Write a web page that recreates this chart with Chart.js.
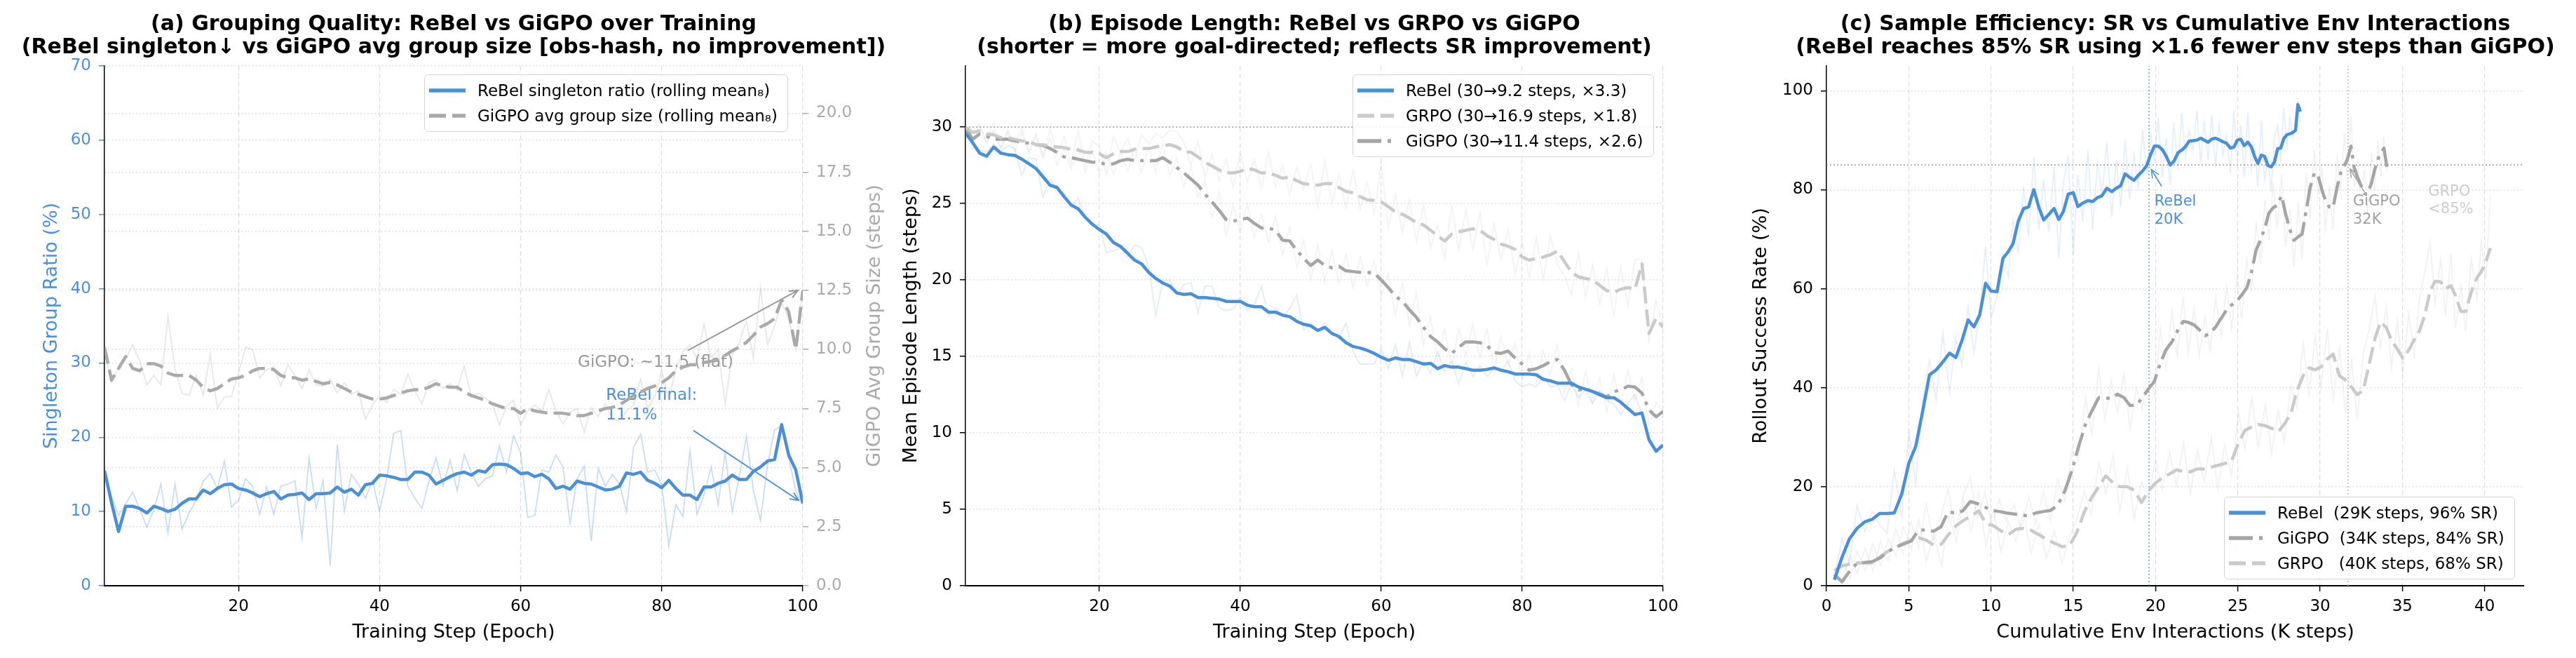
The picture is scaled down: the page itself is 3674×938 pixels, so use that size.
<!DOCTYPE html>
<html>
<head>
<meta charset="utf-8">
<title>ReBel vs GiGPO vs GRPO</title>
<script src="https://cdn.jsdelivr.net/npm/chart.js@4.4.1/dist/chart.umd.min.js"></script>
<style>
  html, body { margin: 0; padding: 0; background: #fff; }
  body { width: 3674px; height: 938px; position: relative; overflow: hidden; font-family: "DejaVu Sans", sans-serif; }
  canvas { position: absolute; top: 0; }
  .legend { position: absolute; background: rgba(255,255,255,0.85); border: 1.5px solid #d4d4d4; border-radius: 6px; padding: 4px 14px 4px 6px; font-size: 23px; color: #000; z-index: 2; }
  .legend .row { display: flex; align-items: center; height: 36px; white-space: pre; }
  .legend svg { margin-right: 17px; flex: none; }
</style>
</head>
<body>
<canvas id="chart-a" width="1290" height="938" style="left:0px"></canvas>
<canvas id="chart-b" width="1190" height="938" style="left:1280px"></canvas>
<canvas id="chart-c" width="1194" height="938" style="left:2480px"></canvas>
<div class="legend" id="legend-a" style="left:605px; top:106px"></div>
<div class="legend" id="legend-b" style="left:1929px; top:106px"></div>
<div class="legend" id="legend-c" style="left:3172px; top:708px"></div>
<script>
// ---- data ----
const epochs = Array.from({ length: 100 }, (_, i) => i + 1);
const epochTicks = [20, 40, 60, 80, 100];

// (a) grouping quality
const singletonTicks = [0, 10, 20, 30, 40, 50, 60, 70];
const groupSizeTicks = [0, 2.5, 5, 7.5, 10, 12.5, 15, 17.5, 20];
const rebelSingletonMean = [
  15.5, 11.2, 7.3, 10.7, 10.7, 10.4, 9.8, 10.7, 10.4, 10.0,
  10.3, 11.1, 11.7, 11.7, 12.9, 12.4, 13.1, 13.6, 13.7, 13.1,
  12.9, 12.5, 12.0, 12.4, 12.7, 11.7, 12.2, 12.3, 12.5, 11.6,
  12.4, 12.4, 12.5, 13.3, 12.6, 13.0, 12.2, 13.6, 13.8, 14.9,
  14.8, 14.6, 14.3, 14.3, 15.3, 15.3, 14.9, 13.7, 14.2, 14.7,
  15.1, 15.3, 14.9, 15.5, 15.3, 16.3, 16.4, 16.3, 15.8, 15.1,
  15.2, 14.7, 15.0, 14.4, 13.1, 13.4, 13.0, 14.1, 13.8, 13.7,
  13.3, 12.9, 13.0, 13.4, 15.2, 15.0, 15.3, 14.2, 13.8, 13.2,
  14.2, 13.1, 12.2, 12.2, 11.6, 13.3, 13.3, 13.8, 14.1, 14.9,
  14.3, 14.3, 15.4, 16.0, 16.8, 17.0, 21.7, 17.6, 15.6, 11.1
];
const rebelSingletonRaw = [
  15.5, 12.0, 9.5, 11.0, 12.6, 10.3, 7.9, 10.2, 13.7, 7.1,
  13.7, 7.6, 9.8, 11.5, 14.1, 15.1, 13.1, 16.8, 10.6, 11.5,
  14.4, 13.4, 9.6, 13.3, 9.6, 13.4, 13.7, 14.1, 6.5, 17.2,
  10.4, 14.1, 2.7, 19.0, 10.1, 15.0, 13.7, 11.8, 14.2, 10.0,
  14.4, 20.5, 20.9, 13.4, 11.8, 10.4, 14.1, 17.2, 13.4, 16.9,
  12.8, 17.7, 15.3, 13.4, 14.4, 14.8, 18.8, 15.3, 20.2, 17.9,
  9.2, 9.5, 15.6, 15.3, 17.6, 16.0, 8.4, 14.4, 16.1, 6.0,
  15.8, 13.4, 15.0, 13.7, 10.0, 18.6, 20.4, 15.3, 15.6, 13.7,
  5.4, 10.9, 9.3, 18.2, 9.6, 12.2, 16.0, 10.9, 18.0, 10.0,
  14.7, 20.1, 12.8, 8.8, 16.3, 21.0, 21.6, 17.2, 12.8, 10.9
];
const gigpoGroupMean = [
  10.1, 8.7, 9.2, 9.7, 9.2, 9.1, 9.4, 9.4, 9.3, 9.0,
  8.9, 8.9, 8.9, 8.7, 8.4, 8.25, 8.35, 8.55, 8.75, 8.8,
  8.9, 9.1, 9.2, 9.2, 9.15, 8.9, 8.8, 8.8, 8.7, 8.75,
  8.65, 8.55, 8.6, 8.5, 8.35, 8.2, 8.1, 8.0, 7.9, 7.9,
  7.95, 8.05, 8.15, 8.25, 8.3, 8.3, 8.4, 8.55, 8.45, 8.4,
  8.4, 8.2, 8.05, 7.95, 7.85, 7.7, 7.6, 7.5, 7.5, 7.3,
  7.5, 7.4, 7.35, 7.3, 7.3, 7.3, 7.25, 7.2, 7.2, 7.3,
  7.4, 7.5, 7.55, 7.65, 7.85, 8.05, 8.2, 8.35, 8.45, 8.6,
  8.8, 9.1, 9.25, 9.35, 9.35, 9.45, 9.5, 9.6, 9.75, 9.95,
  10.1, 10.3, 10.6, 10.95, 11.1, 11.3, 12.1, 11.6, 10.0, 12.5
];
const gigpoGroupRaw = [
  10.1, 8.6, 9.2, 9.6, 10.2, 9.5, 8.5, 8.9, 8.5, 11.4,
  9.15, 8.15, 8.05, 8.9, 8.05, 9.8, 7.5, 8.0, 8.0, 9.0,
  10.1, 10.0, 8.8, 9.15, 9.25, 8.45, 9.35, 8.9, 8.35, 9.15,
  8.5, 8.45, 8.75, 8.15, 8.6, 8.1, 8.25, 7.05, 7.65, 8.05,
  7.75, 8.3, 8.1, 8.95, 8.25, 7.7, 8.6, 8.7, 8.35, 8.55,
  8.3, 9.3, 8.0, 8.15, 7.95, 7.7, 6.8, 7.6, 7.85, 6.8,
  7.4, 7.65, 7.4, 8.3, 7.4, 6.85, 7.35, 7.5, 6.5, 7.55,
  7.15, 7.7, 7.1, 6.95, 7.4, 7.65, 8.75, 7.5, 8.0, 9.1,
  7.9, 9.15, 9.9, 10.2, 9.6, 11.05, 9.65, 10.0, 7.7, 9.75,
  10.3, 11.2, 9.65, 12.6, 10.2, 11.0, 12.0, 11.3, 10.0, 12.5
];

// (b) episode length
const lengthTicks = [0, 5, 10, 15, 20, 25, 30];
const startLength = [30];
const rebelLenMean = [
  29.6, 29.0, 28.3, 28.1, 28.7, 28.3, 28.2, 28.15, 27.9, 27.6,
  27.3, 26.75, 26.2, 26.05, 25.45, 24.9, 24.65, 24.1, 23.65, 23.3,
  23.0, 22.45, 22.2, 21.75, 21.3, 21.05, 20.5, 20.1, 19.8, 19.6,
  19.15, 19.05, 19.1, 18.85, 18.85, 18.8, 18.75, 18.6, 18.6, 18.6,
  18.35, 18.25, 18.25, 17.9, 17.9, 17.7, 17.6, 17.3, 17.1, 17.0,
  16.7, 16.9, 16.5, 16.3, 15.9, 15.65, 15.55, 15.4, 15.2, 14.95,
  14.75, 14.9, 14.8, 14.8, 14.65, 14.5, 14.55, 14.2, 14.4, 14.3,
  14.3, 14.2, 14.1, 14.1, 14.15, 14.25, 14.1, 14.0, 13.85, 13.85,
  13.85, 13.8, 13.5, 13.4, 13.25, 13.25, 13.25, 13.0, 12.85, 12.7,
  12.5, 12.3, 12.3, 12.0, 11.6, 11.2, 11.3, 9.55, 8.8, 9.2
];
const rebelLenRaw = [
  30.0, 29.1, 28.5, 28.4, 28.9, 28.4, 28.8, 28.6, 26.8, 28.0,
  27.9, 25.4, 26.6, 26.0, 25.7, 24.7, 25.4, 24.0, 23.5, 23.6,
  21.8, 21.9, 22.1, 21.5, 22.3, 22.1, 20.9, 17.7, 19.9, 20.0,
  19.0, 19.7, 19.8, 17.9, 19.6, 19.6, 18.2, 18.0, 18.1, 18.9,
  18.0, 18.4, 19.6, 17.6, 18.2, 17.6, 18.1, 19.0, 16.7, 17.2,
  16.7, 17.2, 16.5, 16.2, 17.2, 15.3, 14.5, 14.5, 14.5, 15.5,
  14.2, 15.8, 13.7, 15.9, 13.7, 14.7, 13.9, 15.3, 14.0, 14.7,
  13.2, 14.6, 13.7, 14.4, 13.7, 14.2, 14.0, 14.7, 13.4, 13.0,
  13.2, 13.0, 13.7, 13.0, 13.1, 12.1, 13.2, 12.3, 12.8, 11.9,
  12.8, 12.1, 11.9, 11.2, 11.9, 12.5, 11.2, 9.3, 8.8, 9.5
];
const grpoLenMean = [
  30.0, 29.65, 29.75, 29.55, 29.5, 29.3, 29.3, 29.2, 29.1, 29.05,
  28.85, 28.85, 28.75, 28.7, 28.65, 28.55, 28.5, 28.35, 28.35, 28.25,
  28.0, 28.25, 28.4, 28.4, 28.55, 28.6, 28.6, 28.7, 28.8, 28.85,
  28.7, 28.4, 28.35, 28.05, 27.7, 27.45, 27.2, 27.0, 27.0, 27.1,
  27.3, 27.2, 27.0, 27.0, 26.85, 26.65, 26.75, 26.5, 26.3, 26.25,
  26.2, 26.3, 26.3, 26.05, 25.8, 25.7, 25.45, 25.25, 25.2, 25.1,
  24.8, 24.45, 24.3, 24.05, 23.75, 23.6, 23.25, 22.9, 22.55, 23.0,
  23.15, 23.25, 23.35, 23.25, 22.9, 22.65, 22.35, 22.2, 22.0, 21.5,
  21.3, 21.4, 21.5, 21.65, 21.9, 21.2, 20.5, 20.2, 20.1, 20.0,
  19.65, 19.3, 19.2, 19.4, 19.5, 19.4, 21.05, 16.5, 17.5, 16.9
];
const grpoLenRaw = [
  30.0, 29.2, 30.2, 29.0, 30.3, 28.6, 29.8, 28.9, 29.9, 28.4,
  29.6, 28.0, 29.9, 28.2, 29.4, 27.6, 29.8, 27.4, 29.1, 28.7,
  26.9, 29.4, 28.3, 29.3, 27.8, 29.5, 28.9, 29.6, 29.3, 29.8,
  29.7, 29.0, 27.5, 29.1, 26.7, 28.2, 26.5, 27.9, 26.1, 28.3,
  26.4, 27.9, 25.9, 28.4, 26.1, 27.5, 25.6, 27.4, 25.9, 27.6,
  24.7, 27.8, 25.0, 26.9, 24.7, 27.2, 24.6, 26.4, 24.3, 27.7,
  23.4, 25.6, 23.1, 25.3, 22.5, 24.9, 22.1, 23.6, 21.4, 24.9,
  21.9, 24.6, 22.0, 24.4, 21.0, 23.7, 21.3, 23.3, 20.4, 22.5,
  20.2, 22.8, 20.0, 22.9, 21.0, 20.3, 19.0, 21.8, 18.9, 21.0,
  18.4, 20.8, 17.6, 20.9, 18.3, 21.3, 21.4, 16.0, 18.7, 16.9
];
const gigpoLenMean = [
  30.0, 29.2, 29.55, 29.4, 29.2, 29.2, 29.2, 29.1, 29.0, 28.95,
  28.85, 28.8, 28.6, 28.35, 28.05, 28.0, 27.9, 27.8, 27.7, 27.7,
  27.55, 27.6, 27.8, 27.9, 27.8, 27.8, 27.8, 27.8, 28.0, 27.7,
  27.35, 27.0, 26.6, 26.2, 25.6, 25.1, 24.55, 23.95, 23.85, 23.95,
  24.05, 23.7, 23.4, 23.4, 23.25, 22.6, 22.55, 21.95, 21.4, 20.95,
  21.3, 20.95, 20.8, 20.9, 20.6, 20.55, 20.5, 20.5, 20.45, 20.0,
  19.5, 18.95, 18.6, 18.05, 17.55, 16.9, 16.3, 15.95, 15.5, 15.2,
  15.6, 15.95, 15.95, 15.9, 15.7, 15.25, 15.2, 15.35, 14.9, 14.5,
  14.1, 14.2, 14.4, 14.65, 14.8, 14.1, 13.15, 12.8, 12.9, 12.7,
  12.55, 12.35, 12.7, 12.8, 13.05, 13.0, 12.6, 11.5, 11.05, 11.4
];
const gigpoLenRaw = [
  30.0, 28.5, 30.1, 28.9, 29.8, 28.6, 29.7, 28.4, 29.6, 28.3,
  29.4, 28.1, 29.3, 27.5, 28.6, 27.2, 28.7, 27.0, 28.5, 26.9,
  28.3, 26.9, 28.4, 27.1, 28.6, 27.0, 28.7, 27.1, 28.9, 26.8,
  28.0, 26.1, 27.4, 25.4, 26.5, 24.1, 25.8, 22.9, 24.9, 23.1,
  25.0, 22.8, 24.3, 22.5, 24.2, 21.6, 23.5, 20.8, 22.6, 20.0,
  22.3, 19.9, 21.9, 19.7, 21.7, 19.5, 21.5, 19.6, 21.3, 18.9,
  20.4, 17.7, 19.8, 17.0, 19.2, 15.7, 17.6, 14.7, 16.8, 14.2,
  16.8, 15.0, 17.1, 14.9, 16.8, 14.1, 16.3, 14.3, 15.9, 13.4,
  15.2, 13.2, 15.4, 13.8, 15.8, 12.6, 14.2, 11.8, 14.0, 12.0,
  13.6, 11.4, 13.8, 11.9, 14.1, 12.1, 13.6, 10.5, 12.0, 11.4
];

// (c) success rate vs cumulative env interactions (K steps)
const stepTicks = [0, 5, 10, 15, 20, 25, 30, 35, 40];
const srTicks = [0, 20, 40, 60, 80, 100];
const srTarget = [85];
const reachSteps = [19.6, 31.7]; // ReBel, GiGPO first reach 85%
const rebelSteps = [
  0.48, 0.95, 1.40, 1.86, 2.32, 2.77, 3.23, 3.69, 4.12, 4.57,
  5.01, 5.42, 5.85, 6.26, 6.67, 7.07, 7.48, 7.86, 8.24, 8.61,
  8.96, 9.31, 9.67, 10.01, 10.37, 10.72, 11.05, 11.34, 11.66, 11.98,
  12.28, 12.60, 12.91, 13.20, 13.51, 13.83, 14.12, 14.40, 14.69, 15.00,
  15.28, 15.58, 15.89, 16.17, 16.47, 16.75, 17.04, 17.34, 17.61, 17.88,
  18.15, 18.43, 18.69, 18.95, 19.22, 19.47, 19.70, 19.93, 20.16, 20.41,
  20.64, 20.89, 21.11, 21.37, 21.59, 21.82, 22.04, 22.29, 22.51, 22.75,
  22.96, 23.19, 23.41, 23.64, 23.86, 24.09, 24.31, 24.55, 24.76, 24.97,
  25.18, 25.39, 25.61, 25.82, 26.03, 26.22, 26.43, 26.63, 26.83, 27.02,
  27.23, 27.42, 27.61, 27.79, 27.98, 28.18, 28.36, 28.51, 28.65, 28.80
];
const rebelSR = [
  1.2, 5.8, 9.5, 11.6, 12.9, 13.4, 14.6, 14.6, 14.7, 18.5,
  24.8, 28.1, 35.3, 42.6, 43.6, 45.2, 47.0, 46.1, 49.6, 53.7,
  52.3, 54.7, 61.1, 59.5, 59.4, 66.1, 67.5, 69.1, 73.7, 76.2,
  76.5, 80.0, 76.4, 73.9, 75.0, 76.2, 74.0, 75.6, 79.1, 79.4,
  76.6, 77.3, 77.8, 77.6, 78.4, 78.8, 80.3, 79.6, 80.3, 80.8,
  83.2, 82.5, 81.9, 82.9, 83.8, 84.9, 87.1, 88.8, 88.8, 88.1,
  86.8, 85.0, 85.7, 87.5, 88.0, 88.7, 89.8, 89.9, 90.0, 90.4,
  90.0, 89.6, 90.2, 90.4, 90.1, 89.7, 89.4, 88.4, 88.6, 90.0,
  90.2, 88.9, 89.6, 88.7, 86.6, 85.3, 87.0, 86.7, 84.9, 84.6,
  85.6, 88.3, 88.4, 90.3, 91.1, 91.3, 91.6, 92.0, 97.2, 95.8
];
const rebelSRRaw = [
  2.0, 9.5, 4.5, 16.2, 11.0, 15.0, 12.2, 10.6, 23.5, 14.0,
  31.0, 20.5, 38.0, 45.5, 37.5, 51.0, 39.0, 50.0, 44.5, 56.5,
  47.0, 55.0, 68.5, 54.0, 58.5, 67.0, 62.5, 74.0, 67.5, 80.5,
  70.5, 86.5, 72.0, 82.0, 71.5, 84.5, 66.0, 81.5, 86.5, 67.0,
  83.0, 73.5, 88.0, 72.0, 85.5, 79.0, 89.5, 74.5, 86.0, 76.5,
  90.0, 78.0, 87.0, 80.5, 92.0, 83.0, 91.5, 86.0, 94.5, 82.5,
  90.5, 81.0, 93.5, 84.0, 95.5, 86.5, 92.0, 88.0, 96.0, 85.5,
  94.0, 86.0, 95.0, 84.5, 93.5, 87.0, 91.0, 83.5, 96.0, 86.0,
  93.0, 82.5, 95.5, 84.0, 88.5, 80.5, 94.0, 82.0, 86.5, 79.5,
  90.5, 93.0, 85.5, 96.5, 89.0, 94.5, 90.5, 95.0, 98.0, 93.5
];
const gigpoSteps = [
  0.48, 0.94, 1.42, 1.88, 2.36, 2.81, 3.29, 3.74, 4.22, 4.67,
  5.14, 5.59, 6.06, 6.50, 6.96, 7.39, 7.85, 8.28, 8.74, 9.17,
  9.62, 10.05, 10.51, 10.94, 11.40, 11.83, 12.29, 12.72, 13.19, 13.61,
  14.06, 14.48, 14.92, 15.32, 15.75, 16.13, 16.55, 16.91, 17.31, 17.68,
  18.08, 18.45, 18.84, 19.20, 19.58, 19.93, 20.30, 20.64, 21.00, 21.32,
  21.68, 21.99, 22.34, 22.66, 23.01, 23.32, 23.66, 23.98, 24.32, 24.62,
  24.95, 25.23, 25.55, 25.82, 26.12, 26.38, 26.66, 26.89, 27.16, 27.39,
  27.66, 27.90, 28.17, 28.41, 28.68, 28.90, 29.16, 29.39, 29.65, 29.86,
  30.11, 30.32, 30.56, 30.78, 31.04, 31.24, 31.47, 31.65, 31.88, 32.07,
  32.29, 32.47, 32.69, 32.88, 33.11, 33.30, 33.52, 33.69, 33.88, 34.06
];
const gigpoSR = [
  2.3, 0.8, 3.0, 4.6, 4.7, 4.9, 5.7, 6.9, 7.8, 8.4,
  9.0, 11.2, 11.3, 11.0, 11.9, 14.9, 14.7, 15.1, 17.0, 16.6,
  15.9, 15.2, 15.0, 14.7, 14.5, 14.3, 14.1, 14.7, 15.0, 15.2,
  16.3, 19.1, 23.3, 28.1, 32.7, 35.3, 38.0, 38.0, 37.8, 38.7,
  38.0, 36.4, 36.5, 38.0, 39.8, 41.3, 45.1, 47.7, 49.3, 51.4,
  53.4, 53.2, 52.7, 51.7, 50.5, 51.0, 52.3, 54.0, 55.7, 56.7,
  57.6, 58.7, 60.2, 63.2, 67.9, 69.8, 72.5, 75.3, 76.4, 76.8,
  78.8, 75.2, 71.9, 69.8, 70.5, 71.0, 75.8, 80.4, 83.4, 83.0,
  80.0, 77.9, 76.5, 76.3, 80.6, 83.3, 84.9, 86.0, 88.8, 84.5,
  82.4, 81.0, 79.2, 79.1, 81.2, 83.8, 86.2, 87.3, 88.4, 84.6
];
const gigpoSRRaw = [
  3.0, 0.5, 6.0, 2.5, 7.5, 3.0, 9.0, 5.0, 11.5, 6.5,
  13.0, 7.5, 16.5, 9.0, 14.0, 19.5, 11.0, 18.0, 22.0, 13.5,
  19.0, 12.0, 17.5, 13.0, 16.5, 11.5, 18.0, 12.5, 19.0, 13.0,
  21.5, 17.0, 27.5, 25.0, 38.0, 30.5, 44.0, 33.5, 41.5, 35.0,
  43.0, 31.5, 40.0, 35.5, 46.0, 38.5, 52.0, 44.0, 55.5, 46.5,
  58.5, 47.0, 56.0, 46.5, 54.5, 47.5, 58.0, 50.5, 60.5, 52.0,
  62.5, 54.0, 66.0, 59.5, 73.5, 65.0, 78.0, 70.0, 81.5, 72.0,
  83.0, 68.5, 76.0, 64.5, 77.5, 66.0, 83.5, 74.0, 88.0, 78.5,
  84.5, 71.5, 81.0, 72.0, 87.0, 79.0, 91.5, 82.0, 95.0, 80.5,
  86.0, 76.5, 84.0, 75.0, 87.5, 79.5, 90.0, 82.5, 91.0, 83.5
];
const grpoSteps = [
  0.48, 0.94, 1.42, 1.88, 2.36, 2.82, 3.29, 3.75, 4.23, 4.68,
  5.15, 5.60, 6.07, 6.52, 6.99, 7.43, 7.90, 8.33, 8.80, 9.25,
  9.68, 10.15, 10.60, 11.06, 11.51, 11.98, 12.44, 12.91, 13.37, 13.85,
  14.32, 14.78, 15.22, 15.68, 16.10, 16.55, 16.97, 17.42, 17.83, 18.28,
  18.70, 19.15, 19.56, 20.01, 20.42, 20.86, 21.27, 21.70, 22.11, 22.55,
  22.95, 23.39, 23.79, 24.21, 24.61, 25.04, 25.43, 25.85, 26.24, 26.68,
  27.05, 27.46, 27.82, 28.23, 28.58, 28.98, 29.33, 29.71, 30.05, 30.44,
  30.79, 31.18, 31.53, 31.92, 32.25, 32.63, 32.97, 33.34, 33.67, 34.02,
  34.34, 34.70, 35.02, 35.39, 35.72, 36.04, 36.35, 36.69, 36.99, 37.33,
  37.62, 37.95, 38.23, 38.56, 38.85, 39.19, 39.53, 39.79, 40.08, 40.35
];
const grpoSR = [
  3.1, 4.0, 4.4, 4.6, 4.6, 4.6, 5.9, 7.0, 7.8, 8.6,
  9.2, 9.7, 9.2, 8.2, 8.4, 10.4, 12.2, 13.2, 14.1, 15.1,
  12.6, 12.1, 11.1, 10.3, 11.4, 11.6, 11.2, 10.3, 9.4, 8.6,
  7.9, 8.1, 10.8, 15.0, 17.7, 20.0, 22.2, 20.8, 20.0, 20.0,
  19.3, 16.8, 19.1, 20.8, 21.8, 22.6, 23.4, 23.1, 23.0, 23.6,
  23.6, 24.0, 24.3, 24.7, 25.1, 28.8, 31.4, 32.1, 32.6, 32.3,
  31.8, 31.1, 32.6, 34.8, 39.3, 42.5, 44.0, 43.6, 44.2, 45.8,
  46.8, 42.4, 41.6, 40.1, 38.6, 39.5, 44.6, 50.0, 53.3, 52.2,
  49.6, 47.8, 46.0, 47.6, 49.7, 51.5, 54.5, 59.6, 61.5, 61.4,
  60.0, 60.6, 58.6, 55.4, 55.4, 59.4, 62.2, 63.4, 65.5, 68.2
];
const grpoSRRaw = [
  2.0, 5.5, 1.5, 7.0, 3.0, 8.5, 4.0, 9.5, 6.0, 12.0,
  7.5, 13.5, 5.0, 10.5, 4.0, 14.0, 9.0, 17.5, 11.0, 19.0,
  8.0, 15.5, 7.0, 13.0, 9.0, 15.0, 6.5, 12.5, 5.5, 11.0,
  4.5, 10.0, 13.5, 19.0, 14.5, 25.0, 18.5, 26.5, 15.0, 24.0,
  13.5, 21.0, 18.0, 25.5, 19.5, 27.0, 20.0, 29.0, 18.5, 27.5,
  21.0, 30.0, 19.5, 28.5, 22.0, 35.0, 27.5, 38.0, 28.0, 36.5,
  26.5, 35.5, 29.0, 40.5, 36.0, 49.0, 38.5, 50.5, 40.0, 52.0,
  37.5, 48.0, 35.0, 45.5, 33.5, 47.0, 51.5, 58.5, 48.0, 56.5,
  44.0, 53.5, 42.5, 55.0, 46.5, 58.0, 63.0, 69.5, 57.0, 66.0,
  54.5, 67.0, 52.0, 60.5, 51.5, 66.0, 58.0, 69.5, 62.0, 79.0
];

// ---- styling ----
const BLUE = '#4A90D9';
const GIGPO_GREY = '#a5a5a5';
const GRPO_GREY = '#cacaca';
const GRID = 'rgba(0,0,0,0.13)';
const DASHED = [24, 9];
const DASH_DOT = [34, 9, 5, 9];

Chart.defaults.font.family = '"DejaVu Sans", sans-serif';
Chart.defaults.color = '#000';

// Function to turn two arrays into {x, y} points
function points(xs, ys) {
    return xs.map((x, i) => ({ x: x, y: ys[i] }));
}

// Function to build a bottom x axis
function xAxis(min, max, ticks, title) {
    return {
        type: 'linear', min: min, max: max,
        afterBuildTicks: s => { s.ticks = ticks.map(v => ({ value: v })); },
        afterFit: s => { s.height = 103; },
        ticks: { font: { size: 23 }, color: '#000', padding: 8, maxRotation: 0, autoSkip: false },
        grid: { color: GRID, lineWidth: 1.2, tickColor: '#000', tickLength: 8, tickWidth: 1.5, tickBorderDash: [] },
        border: { color: '#000', width: 2, dash: [7, 4] },
        title: { display: true, text: title, font: { size: 27 }, color: '#000', padding: { top: 0, bottom: 20 } }
    };
}

// Function to build a y axis (left or right)
function yAxis(o) {
    return {
        type: 'linear', position: o.position || 'left', min: o.min, max: o.max,
        afterBuildTicks: s => { s.ticks = o.ticks.map(v => ({ value: v })); },
        afterFit: s => { s.width = o.width; },
        ticks: { font: { size: 23 }, color: o.color, padding: 11, callback: o.format || (v => v) },
        grid: { color: GRID, lineWidth: 1.5, tickColor: o.color, tickLength: 8, tickWidth: 1.5, tickBorderDash: [] },
        border: { display: o.border !== false, color: '#000', width: 1.5, dash: [2, 3] },
        title: { display: !!o.title, text: o.title, font: { size: 27 }, color: o.color, padding: { top: o.titlePad || 0, bottom: 0 } }
    };
}

// Function to make a thick (smoothed) line dataset
function meanLine(label, data, color, dash, extra) {
    return Object.assign({
        label: label, data: data, borderColor: color, borderWidth: 4.5, borderDash: dash,
        borderJoinStyle: 'round', pointRadius: 0, fill: false, order: 0, inLegend: true
    }, extra || {});
}

// Function to make a faint raw-value dataset
function rawLine(data, color, extra) {
    return Object.assign({
        data: data, borderColor: color, borderWidth: 1.8, pointRadius: 0, fill: false, order: 2
    }, extra || {});
}

// Function to make a dotted reference line dataset
function refLine(data, color) {
    return { data: data, borderColor: color, borderWidth: 1.6, borderDash: [2, 3], pointRadius: 0, fill: false, order: 3 };
}

// Function to draw a simple '->' arrow
function drawArrow(ctx, x0, y0, x1, y1, width) {
    const ang = Math.atan2(y1 - y0, x1 - x0);
    const head = 13, spread = 0.42;
    ctx.lineWidth = width;
    ctx.beginPath(); ctx.moveTo(x0, y0); ctx.lineTo(x1, y1); ctx.stroke();
    ctx.beginPath();
    ctx.moveTo(x1 - head * Math.cos(ang - spread), y1 - head * Math.sin(ang - spread));
    ctx.lineTo(x1, y1);
    ctx.lineTo(x1 - head * Math.cos(ang + spread), y1 - head * Math.sin(ang + spread));
    ctx.stroke();
}

// Plugin: panel title, right axis title, text notes with arrows
function makeDecor(cfg) {
    return {
        id: 'decor',
        beforeDatasetsDraw(chart) {
            const ctx = chart.ctx;
            (cfg.notes || []).forEach(n => {
                const xs = chart.scales.x, ys = chart.scales[n.axis || 'y'];
                ctx.save();
                ctx.fillStyle = n.color; ctx.strokeStyle = n.color;
                ctx.font = n.size + 'px "DejaVu Sans"';
                ctx.textAlign = 'left'; ctx.textBaseline = 'middle';
                const tx = xs.getPixelForValue(n.at[0]), ty = ys.getPixelForValue(n.at[1]);
                n.lines.forEach((line, i) => ctx.fillText(line, tx, ty + i * (n.gap || 0)));
                if (n.arrow) {
                    drawArrow(ctx, xs.getPixelForValue(n.arrow[0]), ys.getPixelForValue(n.arrow[1]),
                        xs.getPixelForValue(n.arrow[2]), ys.getPixelForValue(n.arrow[3]), n.arrowWidth || 2);
                }
                ctx.restore();
            });
        },
        afterDraw(chart) {
            const ctx = chart.ctx, area = chart.chartArea;
            ctx.save();
            ctx.fillStyle = '#000';
            ctx.font = 'bold 30px "DejaVu Sans"';
            ctx.textAlign = 'center'; ctx.textBaseline = 'middle';
            const cx = (area.left + area.right) / 2;
            ctx.fillText(cfg.title[0], cx, 35);
            ctx.fillText(cfg.title[1], cx, 68);
            if (cfg.rightTitle) {
                ctx.font = '27px "DejaVu Sans"';
                ctx.fillStyle = cfg.rightTitle.color;
                ctx.translate(cfg.rightTitle.x, (area.top + area.bottom) / 2);
                ctx.rotate(-Math.PI / 2);
                ctx.fillText(cfg.rightTitle.text, 0, 0);
            }
            ctx.restore();
        }
    };
}

// Function to build an HTML legend from the chart's datasets
function renderLegend(chart, id) {
    const box = document.getElementById(id);
    chart.data.datasets.filter(ds => ds.inLegend).forEach(ds => {
        const dash = (ds.borderDash || []).join(' ');
        box.innerHTML += `
            <div class="row">
                <svg width="52" height="14"><line x1="0" y1="7" x2="52" y2="7" stroke="${ds.borderColor}"
                    stroke-width="${ds.borderWidth + 1}" stroke-dasharray="${dash}"/></svg>
                <span>${ds.label}</span>
            </div>`;
    });
}

function baseOptions(padRight) {
    return {
        responsive: false, animation: false, devicePixelRatio: 1,
        layout: { padding: { top: 94, left: 0, right: padRight, bottom: 0 } },
        plugins: { legend: { display: false }, tooltip: { enabled: false } },
        elements: { line: { tension: 0 } }
    };
}

// Panel (a): grouping quality, two y axes
function drawGroupingChart() {
    const options = baseOptions(0);
    options.scales = {
        x: xAxis(1, 100, epochTicks, 'Training Step (Epoch)'),
        y: yAxis({ min: 0, max: 70, ticks: singletonTicks, width: 149, color: BLUE,
            title: 'Singleton Group Ratio (%)', titlePad: 58 }),
        yG: yAxis({ position: 'right', min: 0, max: 22, ticks: groupSizeTicks, width: 145, color: '#aaaaaa',
            border: false, format: v => v.toFixed(1) })
    };
    const chart = new Chart(document.getElementById('chart-a'), {
        type: 'line',
        data: {
            labels: epochs,
            datasets: [
                meanLine('ReBel singleton ratio (rolling mean₈)', rebelSingletonMean, BLUE, [], { yAxisID: 'y' }),
                meanLine('GiGPO avg group size (rolling mean₈)', gigpoGroupMean, '#aaaaaa', DASHED, { yAxisID: 'yG' }),
                rawLine(rebelSingletonRaw, 'rgba(74,144,217,0.3)', { yAxisID: 'y' }),
                rawLine(gigpoGroupRaw, 'rgba(170,170,170,0.28)', { yAxisID: 'yG' })
            ]
        },
        options: options,
        plugins: [makeDecor({
            title: ['(a) Grouping Quality: ReBel vs GiGPO over Training',
                    '(ReBel singleton↓ vs GiGPO avg group size [obs-hash, no improvement])'],
            rightTitle: { text: 'GiGPO Avg Group Size (steps)', color: '#aaaaaa', x: 1248 },
            notes: [
                { lines: ['GiGPO: ~11.5 (flat)'], at: [68.1, 9.43], axis: 'yG', color: '#999999', size: 23,
                  arrow: [83.7, 9.96, 99.3, 12.5], arrowWidth: 2 },
                { lines: ['ReBel final:', '11.1%'], at: [72.1, 25.6], axis: 'y', color: BLUE, size: 23, gap: 28,
                  arrow: [84.5, 20.9, 99.4, 11.5], arrowWidth: 2 }
            ]
        })]
    });
    renderLegend(chart, 'legend-a');
}

// Panel (b): episode length over training
function drawLengthChart() {
    const options = baseOptions(98);
    options.scales = {
        x: xAxis(1, 100, epochTicks, 'Training Step (Epoch)'),
        y: yAxis({ min: 0, max: 34, ticks: lengthTicks, width: 97, color: '#000',
            title: 'Mean Episode Length (steps)', titlePad: 4 })
    };
    const chart = new Chart(document.getElementById('chart-b'), {
        type: 'line',
        data: {
            labels: epochs,
            datasets: [
                meanLine('ReBel (30→9.2 steps, ×3.3)', rebelLenMean, BLUE, []),
                meanLine('GRPO (30→16.9 steps, ×1.8)', grpoLenMean, GRPO_GREY, DASHED),
                meanLine('GiGPO (30→11.4 steps, ×2.6)', gigpoLenMean, GIGPO_GREY, DASH_DOT),
                rawLine(rebelLenRaw, 'rgba(74,144,217,0.17)'),
                rawLine(grpoLenRaw, 'rgba(170,170,170,0.14)'),
                rawLine(gigpoLenRaw, 'rgba(170,170,170,0.14)'),
                refLine([{ x: 1, y: startLength[0] }, { x: 100, y: startLength[0] }], '#aaaaaa')
            ]
        },
        options: options,
        plugins: [makeDecor({
            title: ['(b) Episode Length: ReBel vs GRPO vs GiGPO',
                    '(shorter = more goal-directed; reflects SR improvement)']
        })]
    });
    renderLegend(chart, 'legend-b');
}

// Panel (c): success rate vs cumulative env interactions
function drawEfficiencyChart() {
    const options = baseOptions(74);
    options.scales = {
        x: xAxis(0, 42.4, stepTicks, 'Cumulative Env Interactions (K steps)'),
        y: yAxis({ min: 0, max: 105, ticks: srTicks, width: 125, color: '#000',
            title: 'Rollout Success Rate (%)', titlePad: 16 })
    };
    const chart = new Chart(document.getElementById('chart-c'), {
        type: 'line',
        data: {
            datasets: [
                meanLine('ReBel  (29K steps, 96% SR)', points(rebelSteps, rebelSR), BLUE, []),
                meanLine('GiGPO  (34K steps, 84% SR)', points(gigpoSteps, gigpoSR), GIGPO_GREY, DASH_DOT),
                meanLine('GRPO   (40K steps, 68% SR)', points(grpoSteps, grpoSR), GRPO_GREY, DASHED),
                rawLine(points(rebelSteps, rebelSRRaw), 'rgba(74,144,217,0.14)'),
                rawLine(points(gigpoSteps, gigpoSRRaw), 'rgba(170,170,170,0.15)'),
                rawLine(points(grpoSteps, grpoSRRaw), 'rgba(170,170,170,0.15)'),
                refLine([{ x: 0, y: srTarget[0] }, { x: 42.4, y: srTarget[0] }], '#aaaaaa'),
                refLine([{ x: reachSteps[0], y: 0 }, { x: reachSteps[0], y: 105 }], 'rgba(74,144,217,0.8)'),
                refLine([{ x: reachSteps[1], y: 0 }, { x: reachSteps[1], y: 105 }], '#bbbbbb')
            ]
        },
        options: options,
        plugins: [makeDecor({
            title: ['(c) Sample Efficiency: SR vs Cumulative Env Interactions',
                    '(ReBel reaches 85% SR using ×1.6 fewer env steps than GiGPO)'],
            notes: [
                { lines: ['ReBel', '20K'], at: [19.93, 77.6], color: BLUE, size: 21, gap: 26,
                  arrow: [20.37, 80.7, 19.74, 84.1], arrowWidth: 1.5 },
                { lines: ['GiGPO', '32K'], at: [32.0, 77.6], color: '#a0a0a0', size: 21, gap: 26,
                  arrow: [32.7, 79.5, 31.82, 84.2], arrowWidth: 1.5 },
                { lines: ['GRPO', '<85%'], at: [36.57, 79.6], color: '#cccccc', size: 21, gap: 25 }
            ]
        })]
    });
    renderLegend(chart, 'legend-c');
}

// Initialize all three panels
drawGroupingChart();
drawLengthChart();
drawEfficiencyChart();
</script>
</body>
</html>
